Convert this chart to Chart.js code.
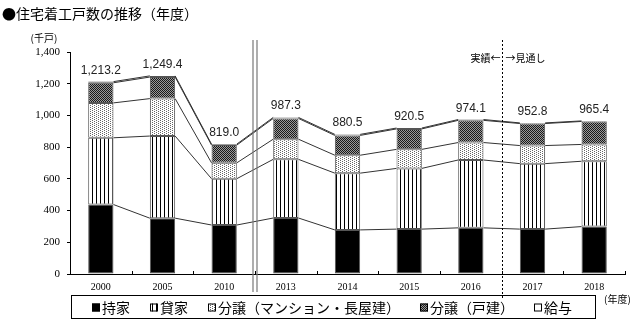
<!DOCTYPE html>
<html>
<head>
<meta charset="utf-8">
<script src="https://cdn.jsdelivr.net/npm/chart.js@4/dist/chart.umd.min.js"></script>
<style>
  html, body { margin: 0; padding: 0; background: #fff; }
  #wrap { width: 640px; height: 325px; }
</style>
</head>
<body>
<div id="wrap"><canvas id="c" width="640" height="325"></canvas></div>
<script>
// ---- data (unit: 千戸) ----
const categories = ['2000', '2005', '2010', '2013', '2014', '2015', '2016', '2017', '2018'];
const owned    = [438, 352, 309, 353, 278, 283, 291, 283, 299];   // 持家
const rental   = [421, 518, 292, 370, 358, 383, 428, 413, 412];   // 貸家
const condo    = [220, 236, 100, 127, 113, 120, 110, 114, 106];   // 分譲（マンション・長屋建）
const detached = [127, 136, 112, 131, 125, 129, 140, 139, 145];   // 分譲（戸建）
const salary   = [7.2, 7.4, 6.0, 6.3, 6.5, 5.5, 5.1, 3.8, 3.4];   // 給与
const totals   = [1213.2, 1249.4, 819.0, 987.3, 880.5, 920.5, 974.1, 952.8, 965.4];
const seriesNames = ['持家', '貸家', '分譲（マンション・長屋建）', '分譲（戸建）', '給与'];
const yTickValues = [0, 200, 400, 600, 800, 1000, 1200, 1400];

// ---- fill patterns ----
function makePattern(w, h, draw) {
  const c = document.createElement('canvas');
  c.width = w; c.height = h;
  const x = c.getContext('2d');
  draw(x);
  return x.createPattern(c, 'repeat');
}
const patStripe = makePattern(4, 1, x => {
  x.fillStyle = '#fff'; x.fillRect(0, 0, 4, 1);
  x.fillStyle = '#000'; x.fillRect(0, 0, 1, 1);
});
const patDots = makePattern(4, 2, x => {
  x.fillStyle = '#fff'; x.fillRect(0, 0, 4, 2);
  x.fillStyle = '#666'; x.fillRect(0, 0, 1, 1); x.fillRect(2, 1, 1, 1);
});
const patDark = makePattern(2, 2, x => {
  x.fillStyle = '#9a9a9a'; x.fillRect(0, 0, 2, 2);
  x.fillStyle = '#1a1a1a'; x.fillRect(0, 0, 1, 1); x.fillRect(1, 1, 1, 1);
});

const fills = ['#000', patStripe, patDots, patDark, '#fff'];
const values = [owned, rental, condo, detached, salary];

const datasets = values.map((v, i) => ({
  label: seriesNames[i],
  data: v,
  backgroundColor: fills[i],
  borderColor: '#555',
  borderWidth: 1,
  borderSkipped: false,
  categoryPercentage: 1,
  barPercentage: 0.41
}));

const fmtTotal = v => v.toLocaleString('en-US', { minimumFractionDigits: 1, maximumFractionDigits: 1 });

const overlay = {
  id: 'overlay',
  afterDatasetsDraw(chart) {
    const ctx = chart.ctx;
    ctx.save();
    ctx.strokeStyle = '#333';
    ctx.lineWidth = 1;
    chart.data.datasets.forEach((ds, d) => {
      const meta = chart.getDatasetMeta(d);
      for (let i = 0; i < meta.data.length - 1; i++) {
        const a = meta.data[i], b = meta.data[i + 1];
        ctx.beginPath();
        ctx.moveTo(a.x + a.width / 2, a.y);
        ctx.lineTo(b.x - b.width / 2, b.y);
        ctx.stroke();
      }
    });
    ctx.restore();
  },
  afterDraw(chart) {
    const ctx = chart.ctx;
    const xs = chart.scales.x;
    const area = chart.chartArea;
    ctx.save();

    // x-axis inner tick marks at category boundaries
    ctx.strokeStyle = '#000';
    ctx.lineWidth = 1;
    for (let k = 0; k <= categories.length; k++) {
      const px = Math.round(xs.getPixelForValue(k - 0.5)) + 0.5;
      ctx.beginPath();
      ctx.moveTo(px, area.bottom);
      ctx.lineTo(px, area.bottom - 3);
      ctx.stroke();
    }

    // totals above bars
    const topMeta = chart.getDatasetMeta(chart.data.datasets.length - 1);
    ctx.fillStyle = '#222';
    ctx.font = '12px "Liberation Sans", Arial, sans-serif';
    ctx.textAlign = 'center';
    ctx.textBaseline = 'alphabetic';
    topMeta.data.forEach((el, i) => {
      ctx.fillText(fmtTotal(totals[i]), el.x, el.y - 8);
    });

    // double separator between 2010 and 2013
    const xd = xs.getPixelForValue(2.5);
    ctx.strokeStyle = '#777';
    ctx.lineWidth = 1.2;
    [-2, 2].forEach(o => {
      ctx.beginPath();
      ctx.moveTo(xd + o, 40);
      ctx.lineTo(xd + o, 292);
      ctx.stroke();
    });

    // dotted separator between 2016 and 2017
    const xp = Math.round(xs.getPixelForValue(6.5)) + 0.5;
    ctx.strokeStyle = '#000';
    ctx.lineWidth = 1;
    ctx.setLineDash([2, 2]);
    ctx.beginPath();
    ctx.moveTo(xp, 40);
    ctx.lineTo(xp, 298);
    ctx.stroke();
    ctx.setLineDash([]);

    ctx.fillStyle = '#000';
    ctx.font = '10px "Noto Sans CJK JP", sans-serif';
    ctx.textBaseline = 'middle';
    ctx.textAlign = 'right';
    ctx.fillText('実績←', xp - 2, 58);
    ctx.textAlign = 'left';
    ctx.fillText('→見通し', xp + 3, 58);

    // title
    ctx.font = '14px "Noto Sans CJK JP", sans-serif';
    ctx.textAlign = 'left';
    ctx.textBaseline = 'middle';
    ctx.fillText('●住宅着工戸数の推移（年度）', 2, 14);

    // unit labels
    ctx.font = '10px "Noto Sans CJK JP", sans-serif';
    ctx.textAlign = 'center';
    ctx.fillText('(千戸)', 44, 38);
    ctx.textAlign = 'left';
    ctx.fillText('(年度)', 604, 299);

    // legend box
    const boxL = area.left + 1, boxT = 295, boxR = 595, boxB = 318;
    ctx.strokeStyle = '#000';
    ctx.lineWidth = 1;
    ctx.strokeRect(boxL + 0.5, boxT + 0.5, boxR - boxL, boxB - boxT);
    ctx.font = '14px "Noto Sans CJK JP", sans-serif';
    ctx.textBaseline = 'middle';
    const cy = (boxT + boxB) / 2 + 1;
    let lx = boxL + 21;
    chart.data.datasets.forEach(ds => {
      ctx.fillStyle = ds.backgroundColor;
      ctx.fillRect(lx, cy - 4, 8, 8);
      ctx.strokeStyle = '#000';
      ctx.strokeRect(lx + 0.5, cy - 3.5, 7, 7);
      ctx.fillStyle = '#000';
      ctx.fillText(ds.label, lx + 10, cy);
      lx += 10 + ctx.measureText(ds.label).width + 20;
    });

    ctx.restore();
  }
};

new Chart(document.getElementById('c'), {
  type: 'bar',
  data: { labels: categories, datasets },
  options: {
    responsive: false,
    animation: false,
    events: [],
    layout: { padding: { top: 52, right: 15, bottom: 31, left: 0 } },
    plugins: { legend: { display: false }, tooltip: { enabled: false }, title: { display: false } },
    scales: {
      x: {
        stacked: true,
        offset: true,
        grid: { display: false, drawTicks: false },
        border: { display: true, color: '#000', width: 1 },
        ticks: {
          color: '#000',
          font: { family: '"Liberation Serif", serif', size: 10 },
          padding: 7,
          maxRotation: 0,
          autoSkip: false
        },
        afterFit: s => { s.height = 20; }
      },
      y: {
        stacked: true,
        min: 0,
        max: 1400,
        border: { display: true, color: '#000', width: 1 },
        grid: { drawOnChartArea: false, drawTicks: true, tickLength: 3, color: '#000' },
        ticks: {
          color: '#000',
          font: { family: '"Liberation Serif", serif', size: 11 },
          padding: 7,
          callback: v => v.toLocaleString('en-US')
        },
        afterBuildTicks: s => { s.ticks = yTickValues.map(v => ({ value: v })); },
        afterFit: s => { s.width = 70; }
      }
    }
  },
  plugins: [overlay]
});
</script>
</body>
</html>
